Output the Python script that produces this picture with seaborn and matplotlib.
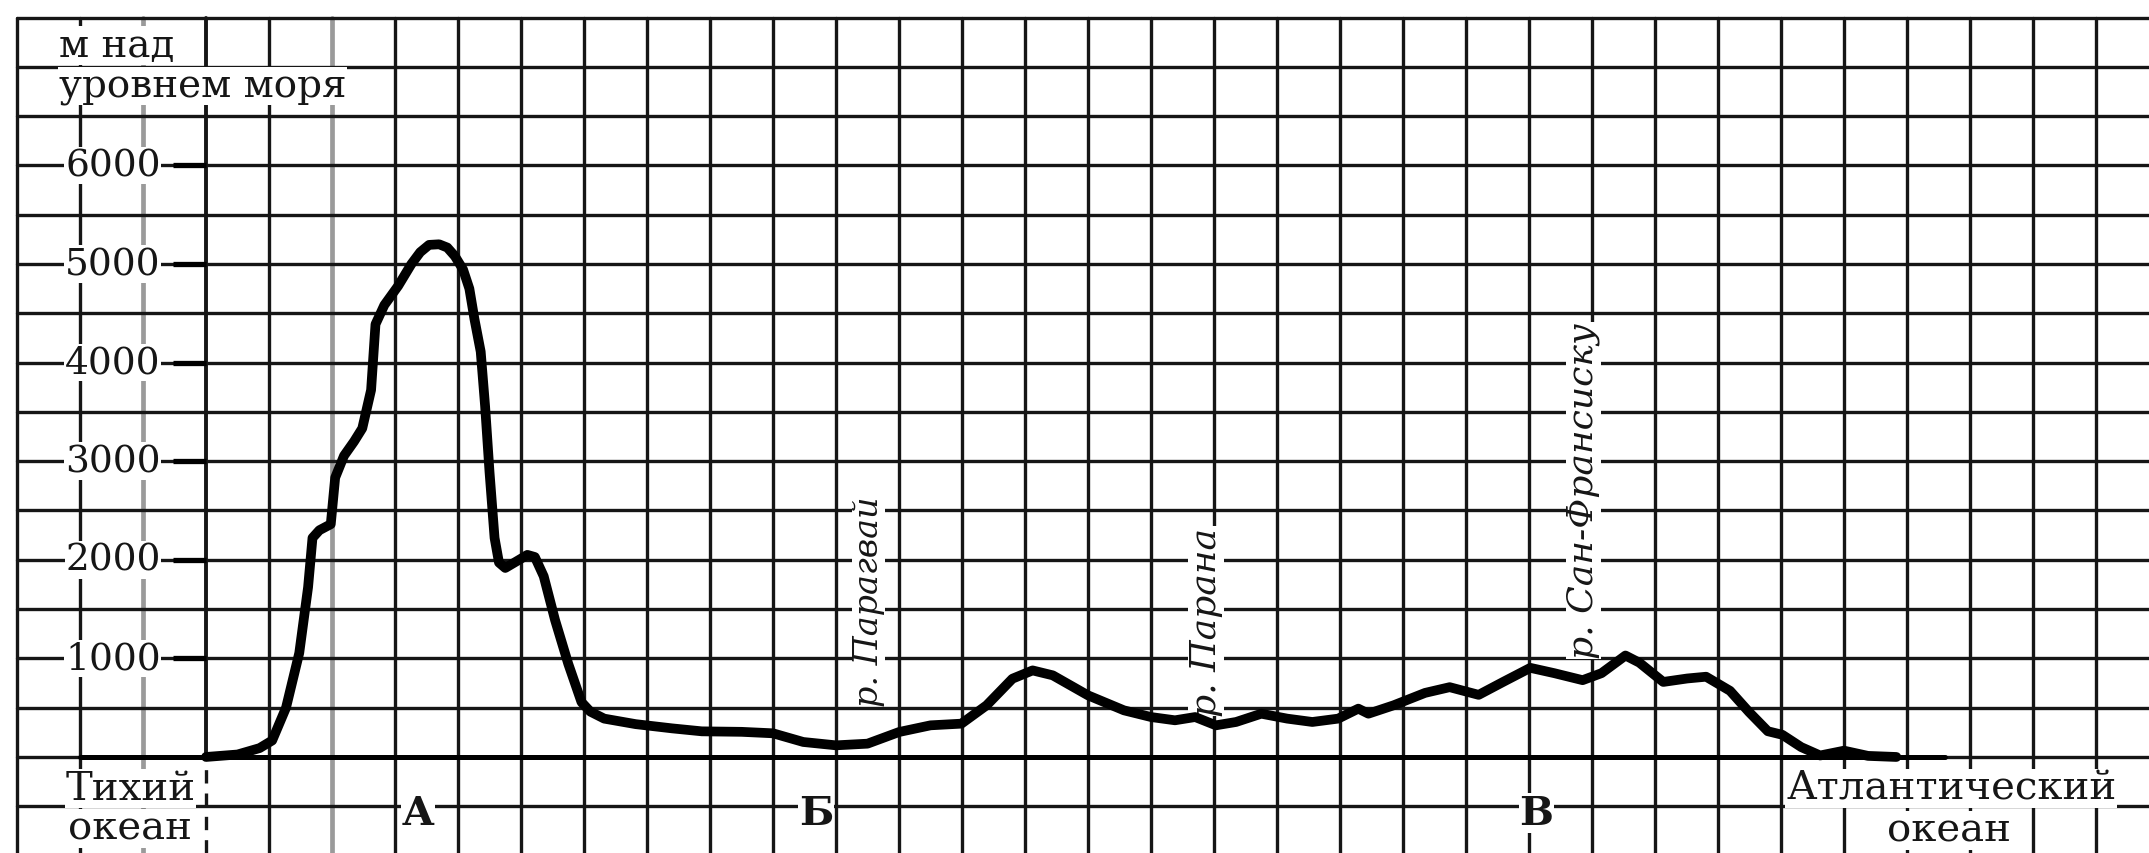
import numpy as np
import pandas as pd
import seaborn as sns
import matplotlib
import matplotlib.pyplot as plt
matplotlib.use('AGG')

# Profile data: distance in grid cells from the Pacific coast, elevation in metres
dist = [0, 0.5, 0.85, 1.05, 1.27, 1.48, 1.62, 1.69, 1.8, 1.98, 2.05, 2.19, 2.35,
        2.48, 2.62, 2.69, 2.83, 3.05, 3.26, 3.4, 3.54, 3.7, 3.83, 3.95, 4.08,
        4.18, 4.26, 4.36, 4.43, 4.5, 4.58, 4.65, 4.75, 4.97, 5.1, 5.22, 5.36,
        5.54, 5.75, 5.96, 6.1, 6.32, 6.82, 7.4, 7.87, 8.5, 9.0, 9.48, 10.0, 10.5,
        11.0, 11.5, 11.99, 12.39, 12.8, 13.12, 13.44, 14.0, 14.57, 15.0, 15.38,
        15.7, 16.03, 16.35, 16.75, 17.16, 17.56, 17.97, 18.29, 18.45, 18.85,
        19.35, 19.74, 20.2, 20.6, 21.02, 21.4, 21.85, 22.15, 22.53, 22.75, 23.13,
        23.51, 23.81, 24.19, 24.49, 24.79, 25.02, 25.32, 25.62, 26.0, 26.38, 26.83]
elev = [0, 25, 90, 167, 500, 1055, 1722, 2222, 2300, 2361, 2833, 3055, 3200,
        3333, 3722, 4389, 4583, 4778, 5000, 5120, 5194, 5200, 5167, 5080, 4944,
        4750, 4444, 4111, 3556, 2889, 2222, 1972, 1917, 2000, 2050, 2028, 1833,
        1389, 944, 556, 460, 389, 333, 290, 260, 255, 240, 152, 118, 135,
        253, 321, 338, 524, 794, 878, 828, 625, 473, 405, 372,
        405, 321, 355, 439, 389, 355, 389, 490, 439, 524,
        650, 708, 630, 765, 904, 850, 779, 850, 1029, 957, 761,
        796, 814, 671, 457, 261, 225, 100, 15, 64, 11, 0]

y_ticks = [1000, 2000, 3000, 4000, 5000, 6000]
points = ['А', 'Б', 'В']
point_x = [3.36, 9.68, 21.12]
rivers = ['р. Парагвай', 'р. Парана', 'р. Сан-Франсиску']
river_x = [10.52, 15.87, 21.86]
river_y = [520, 420, 1000]
river_size = [24, 26, 26]

sns.set_style("white")
plt.rcParams['font.family'] = ['DejaVu Serif', 'DejaVu Sans']

fig = plt.figure(figsize=(21.49, 8.54), dpi=100)
ax = fig.add_axes([0, 0, 1, 1])
ax.set_xlim(-3.27, 30.84)
ax.set_ylim(-974, 7688)
ax.axis('off')

ink = '#161616'
top = (7500 + 974) / (7688 + 974)

# Graph paper
for gx in range(-3, 31):
    if gx in (-1, 2):
        ax.axvline(gx, ymax=top, color='#9a9a9a', lw=3.4, zorder=1)
    elif gx == 0:
        ax.plot([0, 0], [-974, 0], color=ink, lw=2.4, ls=(0, (4, 3)), zorder=1)
        ax.plot([0, 0], [0, 7500], color=ink, lw=2.8, zorder=1)
    else:
        ax.axvline(gx, ymax=top, color=ink, lw=2.4, zorder=1)
for gy in range(-500, 7501, 500):
    ax.axhline(gy, xmin=(-3 + 3.27) / 34.11, color=ink, lw=2.4, zorder=1)

# Axis and ticks
ax.plot([-2, 27.6], [0, 0], color='black', lw=3.6, zorder=2)
ax.hlines(y_ticks, -0.52, 0, color='black', lw=3.8, zorder=2)

box = dict(facecolor='white', edgecolor='none', pad=0.5)
for t in y_ticks:
    ax.text(-0.72, t, str(t), ha='right', va='center', fontsize=27,
            color=ink, bbox=box, zorder=3)

ax.text(-2.34, 7110, 'м над', ha='left', va='baseline', fontsize=28,
        color=ink, bbox=box, zorder=3)
ax.text(-2.34, 6704, 'уровнем моря', ha='left', va='baseline', fontsize=28,
        color=ink, bbox=box, zorder=3)

ax.text(-1.2, -426, 'Тихий', ha='center', va='baseline', fontsize=29,
        color=ink, bbox=box, zorder=3)
ax.text(-1.2, -832, 'океан', ha='center', va='baseline', fontsize=29,
        color=ink, bbox=box, zorder=3)
ax.text(27.7, -426, 'Атлантический', ha='center', va='baseline', fontsize=29,
        color=ink, bbox=box, zorder=3)
ax.text(27.66, -852, 'океан', ha='center', va='baseline', fontsize=29,
        color=ink, bbox=box, zorder=3)

for name, px in zip(points, point_x):
    ax.text(px, -680, name, ha='center', va='baseline', fontsize=29,
            fontweight='bold', color=ink, bbox=box, zorder=3)

for name, rx, ry, fs in zip(rivers, river_x, river_y, river_size):
    ax.text(rx, ry, name, rotation=90, ha='center', va='bottom', fontsize=fs,
            fontstyle='italic', color=ink, bbox=box, zorder=3)

# Relief profile
df = pd.DataFrame({'dist': dist, 'elev': elev})
sns.lineplot(data=df, x='dist', y='elev', ax=ax, color='black', lw=7,
             solid_joinstyle='round', solid_capstyle='round', zorder=4)

plt.savefig('out.png', dpi=100)
